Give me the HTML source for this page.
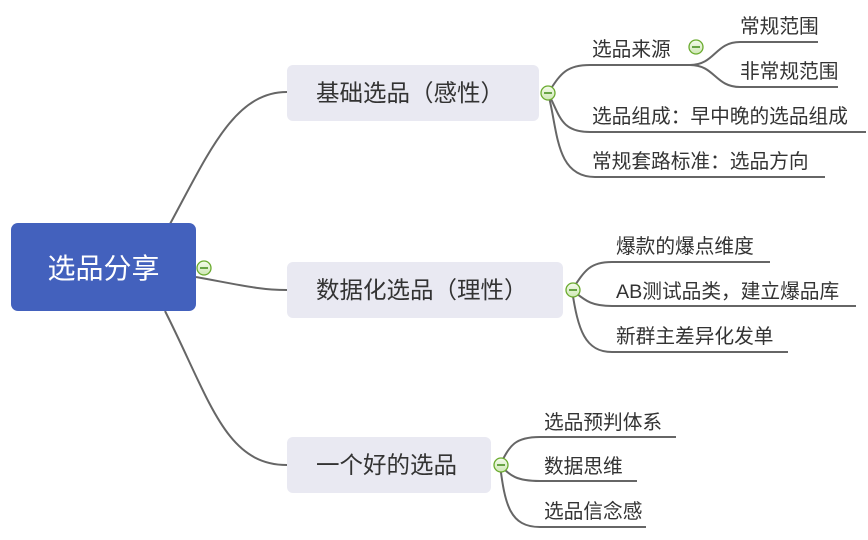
<!DOCTYPE html>
<html><head><meta charset="utf-8"><style>
html,body{margin:0;padding:0;background:#fff;}
svg{display:block;}
text{font-family:"Liberation Sans","Noto Sans CJK SC",sans-serif;fill:#333;}
</style></head><body>
<svg width="868" height="540" viewBox="0 0 868 540" xmlns="http://www.w3.org/2000/svg">
<defs>
<linearGradient id="g" x1="0" y1="0" x2="0" y2="1"><stop offset="0" stop-color="#f4fbec"/><stop offset="1" stop-color="#cfe8b5"/></linearGradient>
</defs>
<g fill="none" stroke="#666" stroke-width="2">
<path d="M170 224 C210 150 235 92 287 92"/>
<path d="M196 277 C240 285 260 290 287 290"/>
<path d="M165 311 C210 400 225 465 287 465"/>
<path d="M548 93 C560 75 565 65 590 65 L690 65"/>
<path d="M690 65 C715 65 715 42 740 42 L818 42"/>
<path d="M690 65 C715 65 715 87 740 87 L838 87"/>
<path d="M548 93 C560 115 560 132 590 132 L866 132"/>
<path d="M548 93 C558 130 555 177 595 177 L825 177"/>
<path d="M572 290 C585 270 590 262 612 262 L770 262"/>
<path d="M572 290 C585 300 590 306 612 306 L856 306"/>
<path d="M572 290 C578 330 585 352 612 352 L788 352"/>
<path d="M500 465 C510 445 515 437 540 437 L676 437"/>
<path d="M500 465 C510 475 515 481 540 481 L637 481"/>
<path d="M500 465 C505 505 510 527 540 527 L646 527"/>
</g>
<rect x="11" y="223" width="185" height="88" rx="7" fill="#4361bd"/>
<text x="103.5" y="278" text-anchor="middle" font-size="28" style="fill:#fff">选品分享</text>
<rect x="287" y="65" width="252" height="56" rx="6" fill="#e9e9f2"/>
<text x="316" y="101" font-size="23.5">基础选品（感性）</text>
<rect x="287" y="262" width="276" height="56" rx="6" fill="#e9e9f2"/>
<text x="316" y="298" font-size="23.5">数据化选品（理性）</text>
<rect x="287" y="437" width="204" height="56" rx="6" fill="#e9e9f2"/>
<text x="316" y="473" font-size="23.5">一个好的选品</text>
<g stroke="#6aab2e" stroke-width="1.3" fill="url(#g)">
<circle cx="204" cy="268" r="7"/><circle cx="548" cy="93" r="7"/><circle cx="696" cy="47" r="7"/>
<circle cx="573" cy="290" r="7"/><circle cx="501" cy="465" r="7"/>
</g>
<g stroke="#3f8a17" stroke-width="1.5">
<line x1="200" y1="268" x2="208" y2="268"/><line x1="544" y1="93" x2="552" y2="93"/><line x1="692" y1="47" x2="700" y2="47"/>
<line x1="569" y1="290" x2="577" y2="290"/><line x1="497" y1="465" x2="505" y2="465"/>
</g>
<g font-size="19.7">
<text x="592" y="56">选品来源</text>
<text x="740" y="33">常规范围</text>
<text x="740" y="78">非常规范围</text>
<text x="592" y="123">选品组成：早中晚的选品组成</text>
<text x="592" y="168">常规套路标准：选品方向</text>
<text x="616" y="253">爆款的爆点维度</text>
<text x="616" y="298">AB测试品类，建立爆品库</text>
<text x="616" y="343">新群主差异化发单</text>
<text x="544" y="429">选品预判体系</text>
<text x="544" y="473">数据思维</text>
<text x="544" y="518">选品信念感</text>
</g>
</svg>
</body></html>
